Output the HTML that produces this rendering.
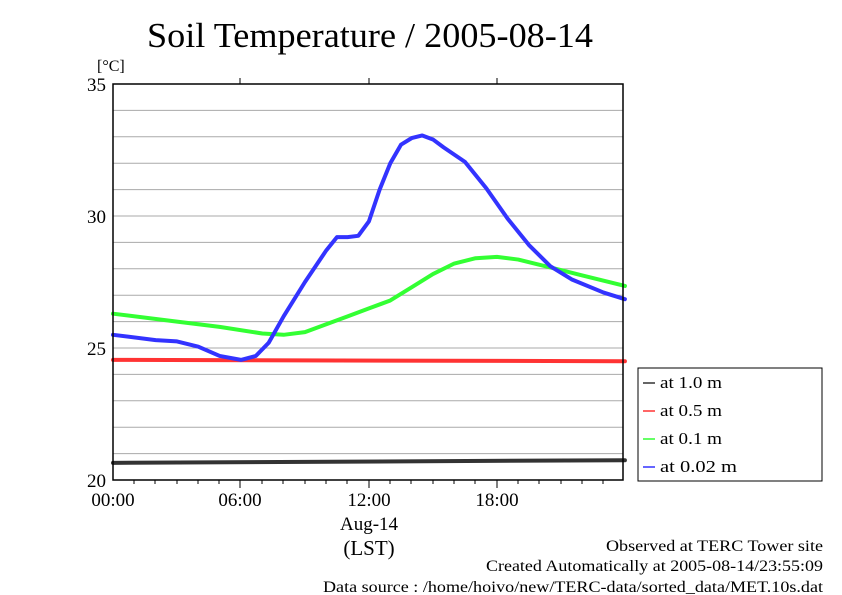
<!DOCTYPE html>
<html><head><meta charset="utf-8"><style>
body{margin:0;background:#fff;}
svg{display:block;font-family:"Liberation Serif",serif;}
</style></head><body>
<svg width="842" height="595" viewBox="0 0 842 595" xmlns="http://www.w3.org/2000/svg">
<rect width="842" height="595" fill="#fff"/>
<text x="147" y="47" font-size="35" textLength="446" lengthAdjust="spacingAndGlyphs">Soil Temperature / 2005-08-14</text>
<text x="97" y="71" font-size="16">[°C]</text>
<g stroke="#aaa" stroke-width="1">
<line x1="113" x2="623" y1="110.4" y2="110.4"/><line x1="113" x2="623" y1="136.8" y2="136.8"/><line x1="113" x2="623" y1="163.2" y2="163.2"/><line x1="113" x2="623" y1="189.6" y2="189.6"/><line x1="113" x2="623" y1="216" y2="216"/><line x1="113" x2="623" y1="242.4" y2="242.4"/><line x1="113" x2="623" y1="268.8" y2="268.8"/><line x1="113" x2="623" y1="295.2" y2="295.2"/><line x1="113" x2="623" y1="321.6" y2="321.6"/><line x1="113" x2="623" y1="348" y2="348"/><line x1="113" x2="623" y1="374.4" y2="374.4"/><line x1="113" x2="623" y1="400.8" y2="400.8"/><line x1="113" x2="623" y1="427.2" y2="427.2"/><line x1="113" x2="623" y1="453.6" y2="453.6"/>
</g>
<g fill="none" stroke-linejoin="round" stroke-linecap="round" transform="translate(113,480) scale(21.33,-26.4)">
<path vector-effect="non-scaling-stroke" stroke="#333" stroke-width="4" d="M0,0.65 L24,0.75"/>
<path vector-effect="non-scaling-stroke" stroke="#f33" stroke-width="4" d="M0,4.55 L24,4.5"/>
<path vector-effect="non-scaling-stroke" stroke="#3f3" stroke-width="4" d="M0,6.3 L3,6 L5,5.8 L7,5.55 L8,5.5 L9,5.6 L10,5.9 L11,6.2 L12,6.5 L13,6.8 L14,7.3 L15,7.8 L16,8.2 L17,8.4 L18,8.45 L19,8.35 L20,8.15 L21,7.95 L22,7.75 L23,7.55 L24,7.35"/>
<path vector-effect="non-scaling-stroke" stroke="#33f" stroke-width="4" d="M0,5.5 L2,5.3 L3,5.25 L4,5.05 L5,4.7 L6,4.55 L6.7,4.7 L7.3,5.2 L8,6.2 L9,7.5 L10,8.7 L10.5,9.2 L11,9.2 L11.5,9.25 L12,9.8 L12.5,11 L13,12 L13.5,12.7 L14,12.95 L14.5,13.05 L15,12.9 L15.5,12.6 L16.5,12.05 L17.5,11.05 L18.5,9.9 L19.5,8.9 L20.5,8.1 L21.5,7.6 L23,7.1 L24,6.85"/>
</g>
<rect x="113" y="84" width="510" height="396" fill="none" stroke="#000" stroke-width="1.5"/>
<g stroke="#000" stroke-width="1">
<line x1="240" x2="240" y1="78" y2="84"/><line x1="369" x2="369" y1="78" y2="84"/><line x1="497" x2="497" y1="78" y2="84"/>
<line x1="240" x2="240" y1="480" y2="488"/><line x1="369" x2="369" y1="480" y2="488"/><line x1="497" x2="497" y1="480" y2="488"/>
<line x1="134" x2="134" y1="480" y2="484"/><line x1="155" x2="155" y1="480" y2="484"/><line x1="177" x2="177" y1="480" y2="484"/><line x1="198" x2="198" y1="480" y2="484"/><line x1="219" x2="219" y1="480" y2="484"/><line x1="262" x2="262" y1="480" y2="484"/><line x1="283" x2="283" y1="480" y2="484"/><line x1="305" x2="305" y1="480" y2="484"/><line x1="326" x2="326" y1="480" y2="484"/><line x1="347" x2="347" y1="480" y2="484"/><line x1="390" x2="390" y1="480" y2="484"/><line x1="411" x2="411" y1="480" y2="484"/><line x1="433" x2="433" y1="480" y2="484"/><line x1="454" x2="454" y1="480" y2="484"/><line x1="475" x2="475" y1="480" y2="484"/><line x1="518" x2="518" y1="480" y2="484"/><line x1="539" x2="539" y1="480" y2="484"/><line x1="561" x2="561" y1="480" y2="484"/><line x1="582" x2="582" y1="480" y2="484"/><line x1="603" x2="603" y1="480" y2="484"/>
</g>
<g font-size="19" text-anchor="end">
<text x="106" y="91">35</text><text x="106" y="223">30</text><text x="106" y="355">25</text><text x="106" y="487">20</text>
</g>
<g font-size="19" text-anchor="middle">
<text x="113" y="506">00:00</text><text x="240" y="506">06:00</text><text x="369" y="506">12:00</text><text x="497" y="506">18:00</text>
<text x="369" y="530">Aug-14</text>
<text x="369" y="555" font-size="21">(LST)</text>
</g>
<rect x="638" y="368" width="184" height="113" fill="#fff" stroke="#000" stroke-width="1"/>
<g stroke-width="1.5">
<line x1="643" x2="655" y1="383" y2="383" stroke="#333"/>
<line x1="643" x2="655" y1="411" y2="411" stroke="#f33"/>
<line x1="643" x2="655" y1="439" y2="439" stroke="#3f3"/>
<line x1="643" x2="655" y1="467" y2="467" stroke="#33f"/>
</g>
<g font-size="17">
<text x="660" y="388" textLength="62" lengthAdjust="spacingAndGlyphs">at 1.0 m</text>
<text x="660" y="416" textLength="62" lengthAdjust="spacingAndGlyphs">at 0.5 m</text>
<text x="660" y="444" textLength="62" lengthAdjust="spacingAndGlyphs">at 0.1 m</text>
<text x="660" y="472" textLength="77" lengthAdjust="spacingAndGlyphs">at 0.02 m</text>
</g>
<g font-size="16">
<text x="606" y="551" textLength="217" lengthAdjust="spacingAndGlyphs">Observed at TERC Tower site</text>
<text x="486" y="571" textLength="337" lengthAdjust="spacingAndGlyphs">Created Automatically at 2005-08-14/23:55:09</text>
<text x="323" y="592" textLength="500" lengthAdjust="spacingAndGlyphs">Data source : /home/hoivo/new/TERC-data/sorted_data/MET.10s.dat</text>
</g>
</svg>
</body></html>
